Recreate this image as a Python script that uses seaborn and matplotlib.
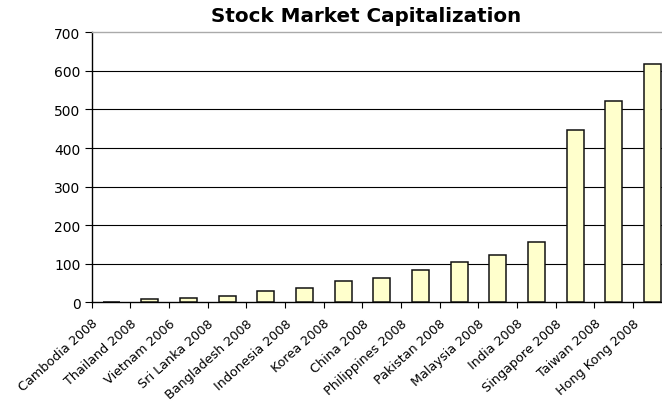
import numpy as np
import pandas as pd
import matplotlib
matplotlib.use("Agg")
import matplotlib.pyplot as plt
import matplotlib.transforms as mtransforms
import seaborn as sns

categories = ["Cambodia 2008", "Thailand 2008", "Vietnam 2006", "Sri Lanka 2008",
              "Bangladesh 2008", "Indonesia 2008", "Korea 2008", "China 2008",
              "Philippines 2008", "Pakistan 2008", "Malaysia 2008", "India 2008",
              "Singapore 2008", "Taiwan 2008", "Hong Kong 2008"]
values = [0, 8, 12, 16, 29, 36, 54, 64, 84, 104, 122, 156, 446, 522, 618]
y_ticks = [0, 100, 200, 300, 400, 500, 600, 700]
title = "Stock Market Capitalization"

sns.set_theme(style="white")
plt.rcParams["font.family"] = ["DejaVu Sans"]

df = pd.DataFrame({"category": categories, "value": values})

W, H = 662, 402
fig = plt.figure(figsize=(W / 100, H / 100), dpi=100)
left, right, top, bottom = 91.7, 671.7, 33.3, 303.3
ax = fig.add_axes([left / W, (H - bottom) / H, (right - left) / W, (bottom - top) / H])

sns.barplot(data=df, x="category", y="value", order=categories, ax=ax,
            color="#FFFFCC", saturation=1, width=0.44,
            edgecolor="#111111", linewidth=1.1, zorder=3)

ax.set_xlim(-0.5, len(categories) - 0.5)
ax.set_ylim(0, 700)
ax.set_xlabel("")
ax.set_ylabel("")

# gridlines
for yv in y_ticks[1:-1]:
    ax.axhline(yv, color="black", linewidth=0.8, zorder=1)

ax.set_yticks(y_ticks)
ax.set_yticklabels([str(v) for v in y_ticks], fontsize=10, color="black")

pos = np.arange(len(categories) + 1) - 0.5
ax.set_xticks(pos)
ax.set_xticklabels(categories + [""], fontsize=9.2, color="black",
                   rotation=42, ha="right", va="top", rotation_mode="anchor")
offset = mtransforms.ScaledTranslation(0.07, 0, fig.dpi_scale_trans)
for lbl in ax.get_xticklabels():
    lbl.set_transform(lbl.get_transform() + offset)

ax.tick_params(axis="y", which="major", direction="out", length=5, width=0.8,
               color="black", pad=3, left=True)
ax.tick_params(axis="x", which="major", direction="out", length=4, width=0.8,
               color="black", pad=6, bottom=True)

for side in ["left", "bottom"]:
    ax.spines[side].set_color("black")
    ax.spines[side].set_linewidth(1.0)
ax.spines["right"].set_visible(False)
ax.spines["top"].set_color("#aaaaaa")
ax.spines["top"].set_linewidth(1.0)

fig.text(366 / W, (H - 22.5) / H, title, ha="center", va="baseline",
         fontsize=14.3, fontweight="bold", color="black")

fig.savefig("out.png", dpi=100, facecolor="white")
